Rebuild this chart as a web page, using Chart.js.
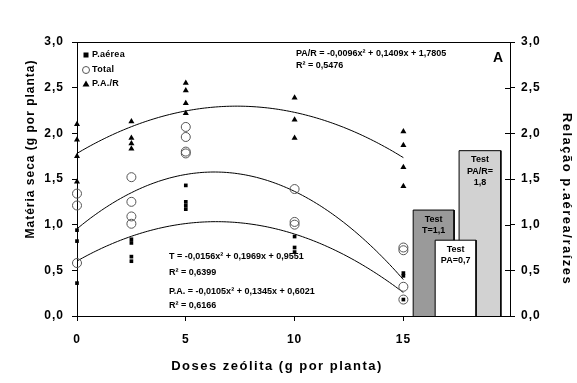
<!DOCTYPE html>
<html><head><meta charset="utf-8">
<script src="https://cdn.jsdelivr.net/npm/chart.js@4"></script>
<style>html,body{margin:0;padding:0;background:#fff}</style>
</head><body>
<canvas id="c" width="577" height="383" style="width:577px;height:383px;display:block"></canvas>
<script>
// ---- data ----
const xTicks = [0, 5, 10, 15];
const yTicks = [0, 0.5, 1, 1.5, 2, 2.5, 3];

const paereaDose = [0, 0, 0, 2.5, 2.5, 2.5, 2.5, 5, 5, 5, 5, 10, 10, 10, 15, 15, 15];
const paereaVal  = [0.94, 0.82, 0.36, 0.84, 0.80, 0.65, 0.60, 1.43, 1.25, 1.21, 1.17, 0.87, 0.75, 0.70, 0.47, 0.44, 0.18];

const totalDose = [0, 0, 0, 2.5, 2.5, 2.5, 2.5, 5, 5, 5, 5, 10, 10, 10, 15, 15, 15, 15];
const totalVal  = [1.34, 1.21, 0.58, 1.52, 1.25, 1.09, 1.01, 2.07, 1.96, 1.80, 1.78, 1.39, 1.03, 1.00, 0.75, 0.72, 0.32, 0.18];

const parDose = [0, 0, 0, 0, 2.5, 2.5, 2.5, 2.5, 5, 5, 5, 5, 10, 10, 10, 15, 15, 15, 15];
const parVal  = [2.10, 1.93, 1.75, 1.47, 2.13, 1.95, 1.89, 1.83, 2.55, 2.47, 2.33, 2.22, 2.39, 2.15, 1.95, 2.02, 1.87, 1.63, 1.42];

// regression coefficients printed on the chart [a, b, c] for a*x^2 + b*x + c
const coefPAR = [-0.0096, 0.1409, 1.7805];
const coefT   = [-0.0156, 0.1969, 0.9551];
const coefPA  = [-0.0105, 0.1345, 0.6021];
const fitDoses = [0, 0.5, 1, 1.5, 2, 2.5, 3, 3.5, 4, 4.5, 5, 5.5, 6, 6.5, 7, 7.5, 8, 8.5, 9, 9.5, 10, 10.5, 11, 11.5, 12, 12.5, 13, 13.5, 14, 14.5, 15];

// test (control) bars: [left, right] extents and heights
const barNames   = ['Test T', 'Test PA/R', 'Test PA'];
const barLeft    = [15.45, 17.56, 16.46];
const barRight   = [17.33, 19.48, 18.34];
const barHeight  = [1.16, 1.81, 0.83];
const barColors  = ['#9a9a9a', '#d2d2d2', '#ffffff'];
const barLabels  = [['Test', 'T=1,1'], ['Test', 'PA/R=', '1,8'], ['Test', 'PA=0,7']];

const equations = [
  ['PA/R = -0,0096x² + 0,1409x + 1,7805', 'R² = 0,5476'],
  ['T = -0,0156x² + 0,1969x + 0,9551', 'R² = 0,6399'],
  ['P.A. = -0,0105x² + 0,1345x + 0,6021', 'R² = 0,6166']
];
const legendLabels = ['P.aérea', 'Total', 'P.A./R'];

// ---- build ----
const pts = (xs, ys) => xs.map((x, i) => ({x: x, y: ys[i]}));
const fit = c => fitDoses.map(x => ({x: x, y: c[0]*x*x + c[1]*x + c[2]}));
const FONT = 'Liberation Sans, Arial, sans-serif';

const datasets = [];
datasets.push({type:'scatter', label:legendLabels[0], data:pts(paereaDose, paereaVal), pointStyle:'rect', pointRadius:2.6, backgroundColor:'#000', borderColor:'#000', borderWidth:0, order:1, clip:false, yAxisID:'y'});
datasets.push({type:'scatter', label:legendLabels[1], data:pts(totalDose, totalVal), pointStyle:'circle', pointRadius:4.5, backgroundColor:'rgba(0,0,0,0)', borderColor:'#555', borderWidth:1, order:2, clip:false, yAxisID:'y'});
datasets.push({type:'scatter', label:legendLabels[2], data:pts(parDose, parVal), pointStyle:'triangle', pointRadius:3.5, backgroundColor:'#000', borderColor:'#000', borderWidth:0, order:0, clip:false, yAxisID:'y'});
[coefPAR, coefT, coefPA].forEach((c, i) => {
  datasets.push({type:'line', label:'fit'+i, data:fit(c), borderColor:'#000', borderWidth:1, pointRadius:0, tension:0.4, fill:false, order:3, yAxisID:'y'});
});
barNames.forEach((n, i) => {
  datasets.push({type:'line', label:n, data:[{x:barLeft[i],y:0},{x:barLeft[i],y:barHeight[i]},{x:barRight[i],y:barHeight[i]},{x:barRight[i],y:0}],
    borderColor:'#000', borderWidth:1, pointRadius:0, tension:0, fill:'origin', backgroundColor:barColors[i],
    order: i===2 ? 4 : (i===1 ? 5 : 6), yAxisID:'y'});
});

const extras = {
  id:'extras',
  beforeDraw(chart){ chart.ctx.letterSpacing = '1px'; },
  afterDraw(chart){
    const ctx = chart.ctx, a = chart.chartArea, xs = chart.scales.x, ys = chart.scales.y, y2 = chart.scales.y2;
    ctx.save();
    ctx.strokeStyle = '#000'; ctx.lineWidth = 1;
    // top border
    ctx.beginPath(); ctx.moveTo(a.left, a.top + 0.5); ctx.lineTo(a.right, a.top + 0.5); ctx.stroke();
    // inward ticks on right axis
    yTicks.forEach(v => { const py = Math.round(y2.getPixelForValue(v)) + 0.5; ctx.beginPath(); ctx.moveTo(a.right - 5, py); ctx.lineTo(a.right, py); ctx.stroke(); });
    ctx.fillStyle = '#000';
    ctx.textBaseline = 'middle';
    // legend
    ctx.letterSpacing = '0.3px';
    ctx.font = 'bold 9px ' + FONT;
    ctx.textAlign = 'left';
    const lx = a.left + 9, ly = [55, 70, 84];
    ctx.fillRect(lx - 2.5, ly[0] - 2.5, 5, 5);
    ctx.strokeStyle = '#555'; ctx.beginPath(); ctx.arc(lx, ly[1], 3.5, 0, Math.PI*2); ctx.stroke();
    ctx.beginPath(); ctx.moveTo(lx, ly[2] - 3.5); ctx.lineTo(lx + 3.5, ly[2] + 2.5); ctx.lineTo(lx - 3.5, ly[2] + 2.5); ctx.closePath(); ctx.fill();
    legendLabels.forEach((t, i) => ctx.fillText(t, lx + 6, ly[i]));
    // equations
    ctx.letterSpacing = '0px';
    ctx.fillText(equations[0][0], 296, 54); ctx.fillText(equations[0][1], 296, 66);
    ctx.fillText(equations[1][0], 169, 257); ctx.fillText(equations[1][1], 169, 273);
    ctx.fillText(equations[2][0], 169, 292); ctx.fillText(equations[2][1], 169, 306);
    // bar labels
    ctx.textAlign = 'center';
    barLabels.forEach((lines, i) => {
      const cx = xs.getPixelForValue((barLeft[i] + barRight[i]) / 2);
      const top = ys.getPixelForValue(barHeight[i]);
      lines.forEach((t, j) => ctx.fillText(t, cx, top + 9 + j * 11.5));
    });
    // panel letter
    ctx.font = 'bold 14px ' + FONT;
    ctx.fillText('A', 498, 58);
    // axis titles
    ctx.font = 'bold 13px ' + FONT;
    ctx.letterSpacing = '1.5px';
    ctx.fillText('Doses zeólita (g por planta)', 277, 366);
    ctx.save(); ctx.translate(567, 199); ctx.rotate(Math.PI/2); ctx.fillText('Relação p.aérea/raízes', 0, 0); ctx.restore();
    ctx.font = 'bold 12px ' + FONT;
    ctx.letterSpacing = '1px';
    ctx.save(); ctx.translate(31, 149); ctx.rotate(-Math.PI/2); ctx.fillText('Matéria seca (g por planta)', 0, 0); ctx.restore();
    ctx.restore();
  }
};

const tickFont = {family: FONT, size: 12, weight: 'bold'};
const fmt = v => v.toFixed(1).replace('.', ',');

new Chart(document.getElementById('c'), {
  data: {datasets: datasets},
  options: {
    responsive: false, animation: false, devicePixelRatio: 1,
    layout: {padding: {top: 42, left: 0, right: 0, bottom: 0}},
    plugins: {legend: {display: false}, tooltip: {enabled: false}},
    scales: {
      x: {type:'linear', min:0, max:19.9,
        afterBuildTicks: s => { s.ticks = xTicks.map(v => ({value: v})); },
        afterFit: s => { s.height = 67; },
        grid: {drawOnChartArea:false, tickLength:5, color:'#000'},
        border: {color:'#000', width:1},
        ticks: {font: tickFont, color:'#000', padding: 11, maxRotation:0}},
      y: {type:'linear', position:'left', min:0, max:3,
        afterBuildTicks: s => { s.ticks = yTicks.map(v => ({value: v})); },
        afterFit: s => { s.width = 77; },
        grid: {drawOnChartArea:false, tickLength:5, color:'#000'},
        border: {color:'#000', width:1},
        ticks: {font: tickFont, color:'#000', padding: 8, callback: fmt}},
      y2: {type:'linear', position:'right', min:0, max:3,
        afterBuildTicks: s => { s.ticks = yTicks.map(v => ({value: v})); },
        afterFit: s => { s.width = 67; },
        grid: {drawOnChartArea:false, tickLength:5, color:'#000'},
        border: {color:'#000', width:1},
        ticks: {font: tickFont, color:'#000', padding: 6, callback: fmt}}
    }
  },
  plugins: [extras]
});
</script>
</body></html>
